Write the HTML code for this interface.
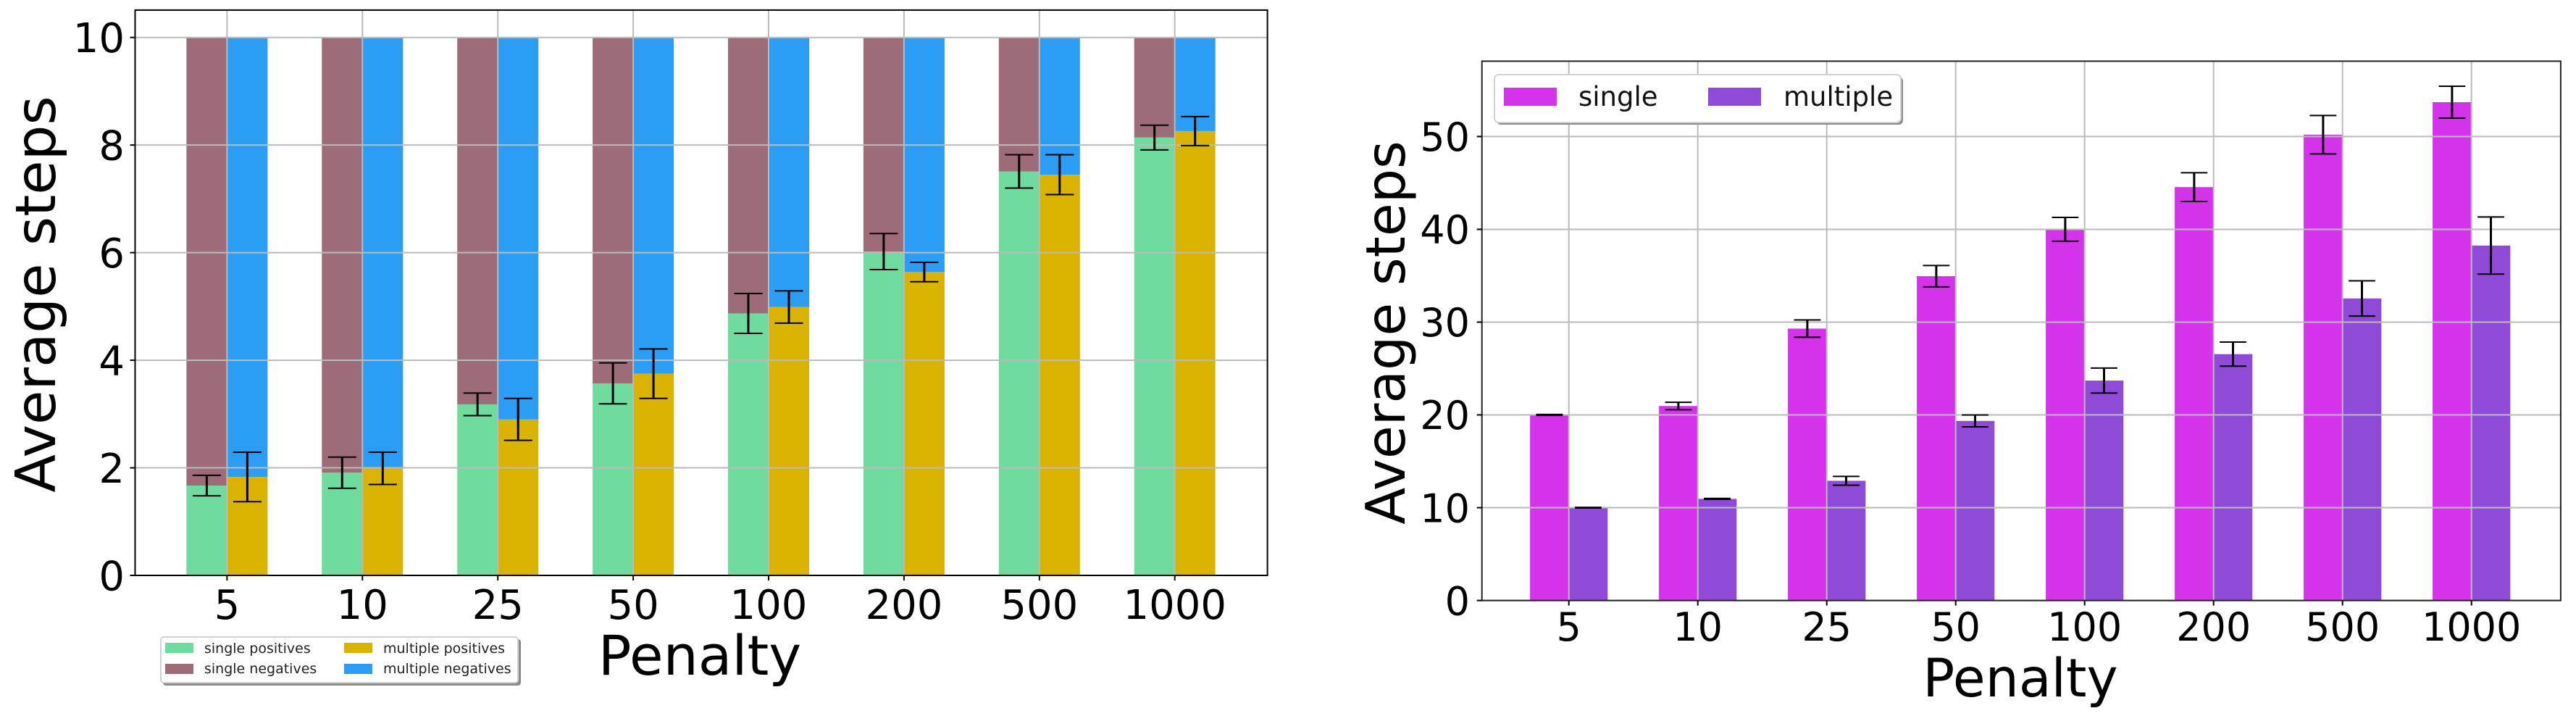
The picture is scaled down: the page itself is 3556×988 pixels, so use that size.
<!DOCTYPE html>
<html lang="en">
<head>
<meta charset="utf-8">
<title>Average steps by penalty</title>
<style>
html,body{margin:0;padding:0;background:#fff;width:3556px;height:988px;overflow:hidden}
svg{display:block;font-family:"DejaVu Sans","Liberation Sans",sans-serif}
</style>
</head>
<body>
<svg id="figure" xmlns="http://www.w3.org/2000/svg" width="3556" height="988" viewBox="0 0 3556 988">
  <rect width="3556" height="988" fill="#fff"/>
  <g id="left-chart"></g>
  <g id="right-chart"></g>

  <text transform="translate(76 406) rotate(-90)" text-anchor="middle" font-size="77" fill="#000">Average steps</text>
  <text x="966" y="931" text-anchor="middle" font-size="76" fill="#000">Penalty</text>
  <text transform="translate(1939 459) rotate(-90)" text-anchor="middle" font-size="74.5" fill="#000">Average steps</text>
  <text x="2789" y="961" text-anchor="middle" font-size="73" fill="#000">Penalty</text>

  <g>
    <rect x="225" y="882" width="494" height="64" rx="4" fill="#8a8a8a"/>
    <rect x="222" y="879" width="493" height="63" rx="4" fill="#fff" stroke="#d2d2d2" stroke-width="2"/>
    <rect x="228" y="887" width="39" height="14" fill="#6fdb9e"/>
    <text x="282" y="901" font-size="19" fill="#222">single positives</text>
    <rect x="228" y="916" width="39" height="14" fill="#9e6b78"/>
    <text x="282" y="929" font-size="19" fill="#222">single negatives</text>
    <rect x="475" y="887" width="39" height="14" fill="#dab300"/>
    <text x="529" y="901" font-size="19" fill="#222">multiple positives</text>
    <rect x="475" y="916" width="39" height="14" fill="#2c9df5"/>
    <text x="529" y="929" font-size="19" fill="#222">multiple negatives</text>
  </g>

  <g>
    <rect x="2066" y="106" width="561" height="66" rx="6" fill="#8a8a8a"/>
    <rect x="2063" y="103" width="561" height="66" rx="6" fill="#fff" stroke="#d2d2d2" stroke-width="2"/>
    <rect x="2076" y="121" width="73" height="25" fill="#d433eb"/>
    <text x="2179" y="146" font-size="37" fill="#111">single</text>
    <rect x="2358" y="121" width="73" height="25" fill="#8f4bd8"/>
    <text x="2462" y="146" font-size="37" fill="#111">multiple</text>
  </g>
</svg>
<script>
const categories = ['5','10','25','50','100','200','500','1000'];

const leftYTicks = [0,2,4,6,8,10];
const singlePositives = [1.67,1.91,3.18,3.57,4.87,6.02,7.51,8.14];
const singleNegatives = [8.33,8.09,6.82,6.43,5.13,3.98,2.49,1.86];
const multiplePositives = [1.83,1.99,2.90,3.75,4.99,5.64,7.45,8.26];
const multipleNegatives = [8.17,8.01,7.10,6.25,5.01,4.36,2.55,1.74];
const singlePositiveErrors = [0.19,0.29,0.21,0.38,0.37,0.335,0.31,0.23];
const multiplePositiveErrors = [0.46,0.30,0.39,0.46,0.30,0.18,0.37,0.27];

const rightYTicks = [0,10,20,30,40,50];
const singleSteps = [20,20.96,29.3,34.95,40,44.55,50.2,53.7];
const multipleSteps = [10,10.95,12.9,19.35,23.7,26.55,32.55,38.25];
const singleStepErrors = [0.05,0.4,0.93,1.15,1.28,1.55,2.07,1.72];
const multipleStepErrors = [0.03,0.05,0.47,0.64,1.35,1.3,1.9,3.08];

const SVG_NS = 'http://www.w3.org/2000/svg';

function shape(parent, tag, attrs) {
  const el = document.createElementNS(SVG_NS, tag);
  for (const k in attrs) el.setAttribute(k, attrs[k]);
  parent.appendChild(el);
  return el;
}

function drawChart(root, frame, yTicks, series, errors, prefix) {
  const xScale = i => frame.x0 + i * frame.step;
  const yScale = v => frame.y0 - v * frame.unit;
  const right = frame.right, top = frame.top, left = frame.left, bottom = frame.y0;

  // bars
  series.forEach(s => {
    categories.forEach((c, i) => {
      const base = s.base ? s.base[i] : 0;
      const yTop = yScale(base + s.values[i]);
      const x = xScale(i) + s.side * frame.barWidth;
      const bar = shape(root, 'rect', {x: x, y: yTop, width: frame.barWidth, height: yScale(base) - yTop, fill: s.color});
      
      
    });
  });

  // grid above the bars
  yTicks.forEach(t => {
    const line = shape(root, 'line', {x1: left, x2: right, y1: yScale(t), y2: yScale(t), stroke: '#bbbbbb', 'stroke-width': 2});
    
    
  });
  categories.forEach((c, i) => {
    const line = shape(root, 'line', {x1: xScale(i), x2: xScale(i), y1: top, y2: bottom, stroke: '#bbbbbb', 'stroke-width': 2});
    
    
  });

  // error bars
  errors.forEach(e => {
    categories.forEach((c, i) => {
      const cx = xScale(i) + e.side * frame.barWidth / 2;
      const hi = yScale(e.centers[i] + e.values[i]);
      const lo = yScale(e.centers[i] - e.values[i]);
      const g = shape(root, 'g', {stroke: '#000'});
      
      
      shape(g, 'line', {x1: cx, x2: cx, y1: hi, y2: lo, 'stroke-width': 3});
      shape(g, 'line', {x1: cx - frame.cap, x2: cx + frame.cap, y1: hi, y2: hi, 'stroke-width': 2});
      shape(g, 'line', {x1: cx - frame.cap, x2: cx + frame.cap, y1: lo, y2: lo, 'stroke-width': 2});
    });
  });

  // spines
  const spine = shape(root, 'rect', {x: left, y: top, width: right - left, height: bottom - top, fill: 'none', stroke: frame.spine, 'stroke-width': 2});
  
  

  // ticks and labels
  yTicks.forEach(t => {
    const mark = shape(root, 'line', {x1: left - 7, x2: left, y1: yScale(t), y2: yScale(t), stroke: '#000', 'stroke-width': 2});
    
    
    const label = shape(root, 'text', {x: frame.yLabelX, y: yScale(t) + frame.font * 0.365, 'text-anchor': 'end', 'font-size': frame.font, fill: '#000'});
    
    
    label.textContent = t;
  });
  categories.forEach((c, i) => {
    const mark = shape(root, 'line', {x1: xScale(i), x2: xScale(i), y1: bottom, y2: bottom + 7, stroke: '#000', 'stroke-width': 2});
    
    
    const label = shape(root, 'text', {x: xScale(i), y: frame.xLabelY, 'text-anchor': 'middle', 'font-size': frame.font, fill: '#000'});
    
    
    label.textContent = c;
  });
}

drawChart(document.getElementById('left-chart'),
  {left: 186.5, right: 1749.6, top: 13.9, y0: 794, unit: 74.23, x0: 313.4, step: 186.9, barWidth: 56, cap: 19.5, font: 56, yLabelX: 172, xLabelY: 854, spine: '#000'},
  leftYTicks,
  [
    {name: 'single-positives', values: singlePositives, side: -1, color: '#6fdb9e'},
    {name: 'single-negatives', values: singleNegatives, base: singlePositives, side: -1, color: '#9e6b78'},
    {name: 'multiple-positives', values: multiplePositives, side: 0, color: '#dab300'},
    {name: 'multiple-negatives', values: multipleNegatives, base: multiplePositives, side: 0, color: '#2c9df5'}
  ],
  [
    {name: 'single', centers: singlePositives, values: singlePositiveErrors, side: -1},
    {name: 'multiple', centers: multiplePositives, values: multiplePositiveErrors, side: 1}
  ],
  'left');

drawChart(document.getElementById('right-chart'),
  {left: 2045.7, right: 3534.9, top: 84.4, y0: 828.6, unit: 12.804, x0: 2165.7, step: 178, barWidth: 53.6, cap: 18.4, font: 54, yLabelX: 2029, xLabelY: 884, spine: '#222'},
  rightYTicks,
  [
    {name: 'single', values: singleSteps, side: -1, color: '#d433eb'},
    {name: 'multiple', values: multipleSteps, side: 0, color: '#8f4bd8'}
  ],
  [
    {name: 'single', centers: singleSteps, values: singleStepErrors, side: -1},
    {name: 'multiple', centers: multipleSteps, values: multipleStepErrors, side: 1}
  ],
  'right');
</script>
</body>
</html>
